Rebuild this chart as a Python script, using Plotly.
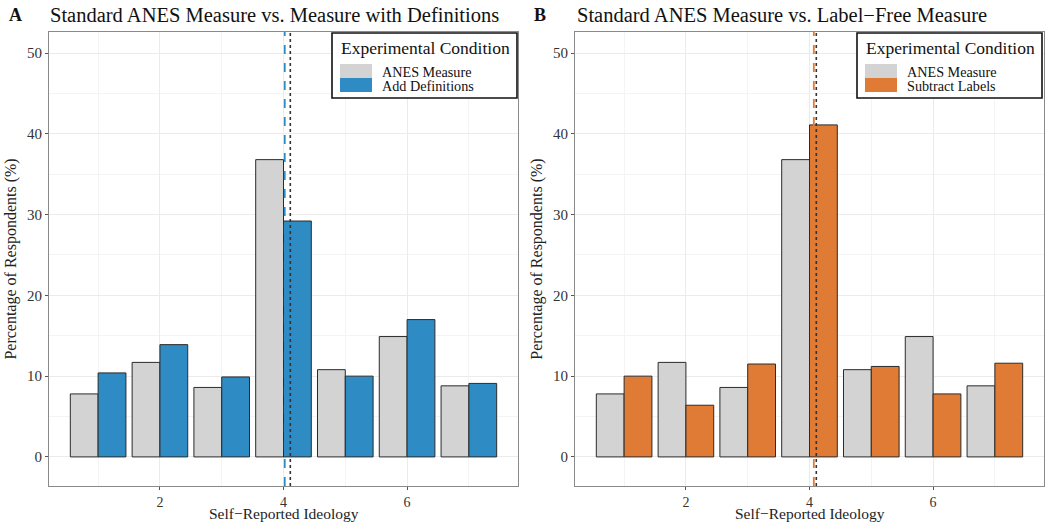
import plotly.graph_objects as go

ideology = [1, 2, 3, 4, 5, 6, 7]
anes = [7.8, 11.7, 8.6, 36.8, 10.8, 14.9, 8.8]
add_def = [10.4, 13.9, 9.9, 29.2, 10.0, 17.0, 9.1]
anes_b = [7.8, 11.7, 8.6, 36.8, 10.8, 14.9, 8.8]
sub_lab = [10.0, 6.4, 11.5, 41.1, 11.2, 7.8, 11.6]
mean_anes = 4.11
mean_def = 4.02
mean_sub = 4.07
x_ticks = [2, 4, 6]
y_ticks = [0, 10, 20, 30, 40, 50]
names_a = ["ANES Measure", "Add Definitions"]
names_b = ["ANES Measure", "Subtract Labels"]
titles = ["Standard ANES Measure vs. Measure with Definitions",
          "Standard ANES Measure vs. Label\u2212Free Measure"]
x_title = "Self\u2212Reported Ideology"
y_title = "Percentage of Respondents (%)"

GRAY = "#D3D3D3"
BLUE = "#2E8BC4"
ORANGE = "#E07B35"
FONT = "Liberation Serif"
W, H = 1046, 523

def px(x):
    return x / W

def py(y):
    return 1 - y / H

fig = go.Figure()
line = dict(color="#2b2b2b", width=1)
fig.add_trace(go.Bar(x=ideology, y=anes, marker=dict(color=GRAY, line=line),
                     xaxis="x", yaxis="y", offsetgroup="a", showlegend=False, name=names_a[0]))
fig.add_trace(go.Bar(x=ideology, y=add_def, marker=dict(color=BLUE, line=line),
                     xaxis="x", yaxis="y", offsetgroup="b", showlegend=False, name=names_a[1]))
fig.add_trace(go.Bar(x=ideology, y=anes_b, marker=dict(color=GRAY, line=line),
                     xaxis="x2", yaxis="y2", offsetgroup="a", showlegend=False, name=names_b[0]))
fig.add_trace(go.Bar(x=ideology, y=sub_lab, marker=dict(color=ORANGE, line=line),
                     xaxis="x2", yaxis="y2", offsetgroup="b", showlegend=False, name=names_b[1]))

xa = dict(range=[0.205, 7.795], tickvals=x_ticks, showgrid=True, gridcolor="#EBEBEB",
          gridwidth=1, zeroline=False, showline=True, mirror=True, linecolor="#8a8a8a",
          linewidth=1, ticks="outside", ticklen=3, tickcolor="#555",
          tickfont=dict(family=FONT, size=14, color="#333"),
          minor=dict(tickvals=[1, 3, 5, 7], showgrid=True, gridcolor="#F4F4F4", gridwidth=1))
ya = dict(range=[-3.6, 52.6], tickvals=y_ticks, showgrid=True, gridcolor="#EBEBEB",
          gridwidth=1, zeroline=False, showline=True, mirror=True, linecolor="#8a8a8a",
          linewidth=1, ticks="outside", ticklen=3, tickcolor="#555",
          tickfont=dict(family=FONT, size=15, color="#333"),
          minor=dict(tickvals=[5, 15, 25, 35, 45], showgrid=True, gridcolor="#F4F4F4", gridwidth=1),
          title=dict(text=y_title, font=dict(family=FONT, size=16, color="#222"), standoff=6))

y0, y1 = py(486), py(32)
fig.update_layout(
    width=W, height=H, margin=dict(l=0, r=0, t=0, b=0),
    paper_bgcolor="white", plot_bgcolor="white",
    barmode="group", bargap=0.1, bargroupgap=0,
    xaxis=dict(xa, domain=[px(49), px(518)], anchor="y"),
    yaxis=dict(ya, domain=[y0, y1], anchor="x"),
    xaxis2=dict(xa, domain=[px(575), px(1044)], anchor="y2"),
    yaxis2=dict(ya, domain=[y0, y1], anchor="x2"),
    showlegend=False,
)

# x axis titles
for xc in [283.5, 809.5]:
    fig.add_annotation(xref="paper", yref="paper", x=px(xc), y=py(513), text=x_title,
                       showarrow=False, xanchor="center", yanchor="middle",
                       font=dict(family=FONT, size=15.5, color="#222"))

# reference lines (means)
for xr, m, c in [("x", mean_def, BLUE), ("x2", mean_sub, ORANGE)]:
    fig.add_shape(type="line", xref=xr, yref=xr.replace("x", "y") + " domain", x0=m, x1=m, y0=0, y1=1,
                  line=dict(color=c, width=1.8, dash="dash"))
    fig.add_shape(type="line", xref=xr, yref=xr.replace("x", "y") + " domain", x0=mean_anes, x1=mean_anes,
                  y0=0, y1=1, line=dict(color="#333", width=1.6, dash="dot"))

# titles and panel labels
for dx, lab, t in [(0, "A", titles[0]), (525, "B", titles[1])]:
    fig.add_annotation(xref="paper", yref="paper", x=px(7 + dx), y=py(15), text="<b>" + lab + "</b>",
                       showarrow=False, xanchor="left", yanchor="middle",
                       font=dict(family=FONT, size=18, color="#111"))
    fig.add_annotation(xref="paper", yref="paper", x=px(48 + dx + (2 if dx else 0)), y=py(15), text=t,
                       showarrow=False, xanchor="left", yanchor="middle",
                       font=dict(family=FONT, size=20.5, color="#111"))

# legends
for dx, names, col in [(0, names_a, BLUE), (525, names_b, ORANGE)]:
    fig.add_shape(type="rect", xref="paper", yref="paper", x0=px(332 + dx), x1=px(517 + dx),
                  y0=py(98), y1=py(33), line=dict(color="#111", width=1.6), fillcolor="white", layer="above")
    fig.add_annotation(xref="paper", yref="paper", x=px(339 + dx), y=py(48), text="Experimental Condition",
                       showarrow=False, xanchor="left", yanchor="middle",
                       font=dict(family=FONT, size=17.5, color="#111"))
    for i, (nm, fc) in enumerate(zip(names, [GRAY, col])):
        top = 64 + 14 * i
        fig.add_shape(type="rect", xref="paper", yref="paper", x0=px(340 + dx), x1=px(372 + dx),
                      y0=py(top + 14), y1=py(top), line=dict(width=0), fillcolor=fc, layer="above")
        fig.add_annotation(xref="paper", yref="paper", x=px(380 + dx), y=py(top + 7.5), text=nm,
                           showarrow=False, xanchor="left", yanchor="middle",
                           font=dict(family=FONT, size=14.2, color="#111"))

fig.write_html("out.html")
